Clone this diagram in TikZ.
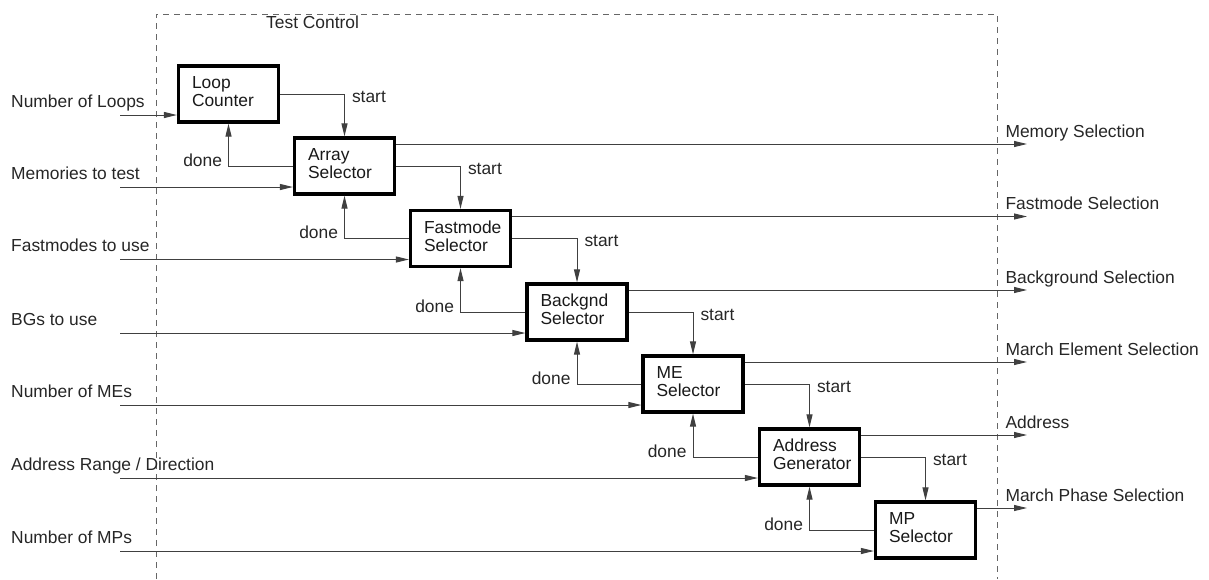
\documentclass[tikz,border=0pt]{standalone}
\usepackage{fontspec}
\setmainfont{Liberation Sans}
\usepackage{tikz}
\usetikzlibrary{arrows.meta, positioning}

\tikzset{
  txt/.style={font=\fontsize{17.4}{18}\selectfont, text=black!85, inner sep=0pt},
  blk/.style={draw=black, line width=3.2pt, minimum width=100pt, minimum height=56pt,
    inner xsep=13.5pt, text width=73pt, align=left, font=\fontsize{17.4}{18}\selectfont, text=black!90,
    execute at end node={\par\vspace{5pt}}},
  sig/.style={draw=black!75, line width=1pt, -{Triangle[length=13pt,width=6pt]}}
}

\begin{document}
\begin{tikzpicture}[x=1pt, y=-1pt]
\useasboundingbox (0,0) rectangle (1209,579);

% test control frame (open at the bottom)
\draw [black!60, line width=1pt, dash pattern=on 6pt off 5pt] (156,579) -- (156,14) -- (997,14) -- (997,579);
\node[txt, anchor=base west] (tc) at (266,28) {Test Control};

% blocks
\node[blk] (lc) at (228.5,94) {Loop\\Counter};
\node[blk] (as) at (344.5,166) {Array\\Selector};
\node[blk] (fs) at (460.5,238.5) {Fastmode\\Selector};
\node[blk] (bs) at (577,312) {Backgnd\\Selector};
\node[blk] (me) at (693,384) {ME\\Selector};
\node[blk] (ag) at (809.5,457) {Address\\Generator};
\node[blk] (mp) at (925.5,530) {MP\\Selector};

% start chain
\draw [sig] (lc.east) -| node[txt, anchor=base west, xshift=7pt, yshift=-8pt] {start} (as.north);
\draw [sig] (as.east) -| node[txt, anchor=base west, xshift=7pt, yshift=-8pt] {start} (fs.north);
\draw [sig] (fs.east) -| node[txt, anchor=base west, xshift=7pt, yshift=-8pt] {start} (bs.north);
\draw [sig] (bs.east) -| node[txt, anchor=base west, xshift=7pt, yshift=-8pt] {start} (me.north);
\draw [sig] (me.east) -| node[txt, anchor=base west, xshift=7pt, yshift=-8pt] {start} (ag.north);
\draw [sig] (ag.east) -| node[txt, anchor=base west, xshift=7pt, yshift=-8pt] {start} (mp.north);

% done chain
\draw [sig] (as.west) -| node[txt, anchor=base east, xshift=-6pt] {done} (lc.south);
\draw [sig] (fs.west) -| node[txt, anchor=base east, xshift=-6pt] {done} (as.south);
\draw [sig] (bs.west) -| node[txt, anchor=base east, xshift=-6pt] {done} (fs.south);
\draw [sig] (me.west) -| node[txt, anchor=base east, xshift=-6pt] {done} (bs.south);
\draw [sig] (ag.west) -| node[txt, anchor=base east, xshift=-6pt] {done} (me.south);
\draw [sig] (mp.west) -| node[txt, anchor=base east, xshift=-6pt] {done} (ag.south);

% inputs
\coordinate (in1) at (120,115);
\coordinate (in2) at (120,187);
\coordinate (in3) at (120,259.5);
\coordinate (in4) at (120,333);
\coordinate (in5) at (120,405);
\coordinate (in6) at (120,478);
\coordinate (in7) at (120,551);
\draw [sig] (in1) -- (in1 -| lc.west);
\draw [sig] (in2) -- (in2 -| as.west);
\draw [sig] (in3) -- (in3 -| fs.west);
\draw [sig] (in4) -- (in4 -| bs.west);
\draw [sig] (in5) -- (in5 -| me.west);
\draw [sig] (in6) -- (in6 -| ag.west);
\draw [sig] (in7) -- (in7 -| mp.west);
\node[txt, anchor=base west] (nl) at ([xshift=-109pt, yshift=8pt]in1) {Number of Loops};
\node[txt, anchor=base west] (mt) at ([xshift=-109pt, yshift=8pt]in2) {Memories to test};
\node[txt, anchor=base west] (fu) at ([xshift=-109pt, yshift=8pt]in3) {Fastmodes to use};
\node[txt, anchor=base west] (bu) at ([xshift=-109pt, yshift=8pt]in4) {BGs to use};
\node[txt, anchor=base west] (nm) at ([xshift=-109pt, yshift=8pt]in5) {Number of MEs};
\node[txt, anchor=base west] (ar) at ([xshift=-109pt, yshift=8pt]in6) {Address Range / Direction};
\node[txt, anchor=base west] (np) at ([xshift=-109pt, yshift=8pt]in7) {Number of MPs};

% outputs
\coordinate (out1) at (1027,144);
\coordinate (out2) at (1027,216.5);
\coordinate (out3) at (1027,290);
\coordinate (out4) at (1027,362);
\coordinate (out5) at (1027,435);
\coordinate (out6) at (1027,508);
\draw [sig] (out1 -| as.east) -- (out1) node[txt, anchor=base west, xshift=-22pt, yshift=7pt] {Memory Selection};
\draw [sig] (out2 -| fs.east) -- (out2) node[txt, anchor=base west, xshift=-22pt, yshift=7pt] {Fastmode Selection};
\draw [sig] (out3 -| bs.east) -- (out3) node[txt, anchor=base west, xshift=-22pt, yshift=7pt] {Background Selection};
\draw [sig] (out4 -| me.east) -- (out4) node[txt, anchor=base west, xshift=-22pt, yshift=7pt] {March Element Selection};
\draw [sig] (out5 -| ag.east) -- (out5) node[txt, anchor=base west, xshift=-22pt, yshift=7pt] {Address};
\draw [sig] (out6 -| mp.east) -- (out6) node[txt, anchor=base west, xshift=-22pt, yshift=7pt] {March Phase Selection};
\end{tikzpicture}
\end{document}
